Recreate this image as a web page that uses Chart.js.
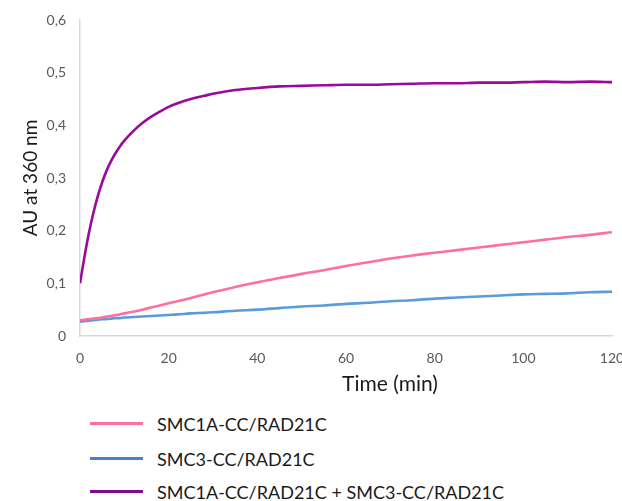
<!DOCTYPE html>
<html>
<head>
<meta charset="utf-8">
<script src="https://cdn.jsdelivr.net/npm/chart.js@4/dist/chart.umd.min.js"></script>
<style>
  html, body { margin: 0; padding: 0; background: #fff; overflow: hidden; }
  #wrap { position: relative; width: 622px; height: 501px; overflow: hidden; }
  #cv { position: absolute; left: 0; top: 0; }
  #xtitle { position: absolute; left: 290px; width: 200px; top: 371px; text-align: center;
            font-family: Lato, sans-serif; font-size: 21px; color: #1a1a1a; line-height: 24px; }
  #legend { position: absolute; left: 0; top: 0; font-family: Lato, sans-serif; font-size: 18px; color: #1a1a1a; }
  .row { position: absolute; left: 90px; height: 24px; white-space: nowrap; }
  .row .ln { position: absolute; left: 0; top: 10px; width: 53px; height: 3px; }
  .row .tx { position: absolute; left: 67px; top: 0; line-height: 24px; }
</style>
</head>
<body>
<div id="wrap">
  <canvas id="cv" width="650" height="394" style="width:650px;height:394px"></canvas>
  <div id="xtitle"></div>
  <div id="legend"></div>
</div>
<script>
// ---- data ----
const timeMin = [0,1,2,3,4,5,6,7,8,9,10,12,14,16,18,20,22,25,28,30,35,40,45,50,55,60,65,70,75,80,85,90,95,100,105,110,115,120];
const smc1a = [0.030,0.031,0.032,0.033,0.034,0.035,0.037,0.038,0.040,0.041,0.043,0.046,0.050,0.054,0.058,0.062,0.066,0.072,0.079,0.083,0.093,0.102,0.110,0.118,0.125,0.133,0.140,0.147,0.153,0.158,0.163,0.168,0.173,0.178,0.183,0.188,0.192,0.197];
const smc3 = [0.027,0.028,0.029,0.030,0.031,0.032,0.032,0.033,0.034,0.034,0.035,0.036,0.037,0.038,0.039,0.040,0.041,0.043,0.044,0.045,0.048,0.050,0.053,0.056,0.058,0.061,0.063,0.066,0.068,0.071,0.073,0.075,0.077,0.079,0.080,0.081,0.083,0.084];
const combined = [0.100,0.150,0.195,0.233,0.265,0.292,0.314,0.332,0.347,0.360,0.371,0.389,0.404,0.416,0.426,0.435,0.442,0.450,0.456,0.460,0.467,0.471,0.474,0.475,0.476,0.477,0.477,0.478,0.479,0.480,0.480,0.481,0.481,0.482,0.483,0.482,0.483,0.482];
const seriesNames = ['SMC1A-CC/RAD21C', 'SMC3-CC/RAD21C', 'SMC1A-CC/RAD21C + SMC3-CC/RAD21C'];
const xTicks = [0,20,40,60,80,100,120];
const yTicks = [0,0.1,0.2,0.3,0.4,0.5,0.6];
const xTitle = 'Time (min)';
const yTitle = 'AU at 360 nm';

const lineColors = ['#ff6f9e', '#5b9bd8', '#9a0a9a'];
const legendColors = ['#ff6f9e', '#4a7fd0', '#7e0a96'];

const allSeries = [smc1a, smc3, combined];
const datasets = allSeries.map((vals, i) => ({
  label: seriesNames[i],
  data: timeMin.map((t, j) => ({ x: t, y: vals[j] })),
  borderColor: lineColors[i],
  backgroundColor: lineColors[i],
  borderWidth: 2.6,
  pointRadius: 0,
  cubicInterpolationMode: 'monotone',
  fill: false
}));

const tickFont = { family: 'Lato, sans-serif', size: 14 };

new Chart(document.getElementById('cv'), {
  type: 'line',
  data: { datasets },
  options: {
    responsive: false,
    animation: false,
    events: [],
    layout: { padding: { left: 0, right: 38, top: 20, bottom: 0 } },
    plugins: { legend: { display: false }, tooltip: { enabled: false } },
    scales: {
      x: {
        type: 'linear',
        min: 0, max: 120,
        afterBuildTicks: s => { s.ticks = xTicks.map(v => ({ value: v })); },
        afterFit: s => { s.height = 58; },
        grid: { display: false },
        border: { display: true, color: '#d9d9d9', width: 1.5 },
        ticks: { font: tickFont, color: '#595959', padding: 6, maxRotation: 0, autoSkip: false },
        title: { display: false }
      },
      y: {
        min: 0, max: 0.6,
        afterBuildTicks: s => { s.ticks = yTicks.map(v => ({ value: v })); },
        afterFit: s => { s.width = 80; },
        grid: { display: false },
        border: { display: true, color: '#d9d9d9', width: 1.5 },
        ticks: {
          font: tickFont, color: '#595959', padding: 6,
          callback: v => (v === 0 ? '0' : v.toFixed(1).replace('.', ','))
        },
        title: {
          display: true, text: yTitle, color: '#1a1a1a',
          font: { family: 'Lato, sans-serif', size: 19 },
          padding: { top: 19, bottom: 0 }
        }
      }
    }
  }
});

document.getElementById('xtitle').textContent = xTitle;
const legend = document.getElementById('legend');
const rowTops = [412, 447, 480];
seriesNames.forEach((name, i) => {
  const row = document.createElement('div');
  row.className = 'row';
  row.style.top = rowTops[i] + 'px';
  const ln = document.createElement('div');
  ln.className = 'ln';
  ln.style.background = legendColors[i];
  const tx = document.createElement('div');
  tx.className = 'tx';
  tx.textContent = name;
  row.appendChild(ln); row.appendChild(tx);
  legend.appendChild(row);
});
</script>
</body>
</html>
